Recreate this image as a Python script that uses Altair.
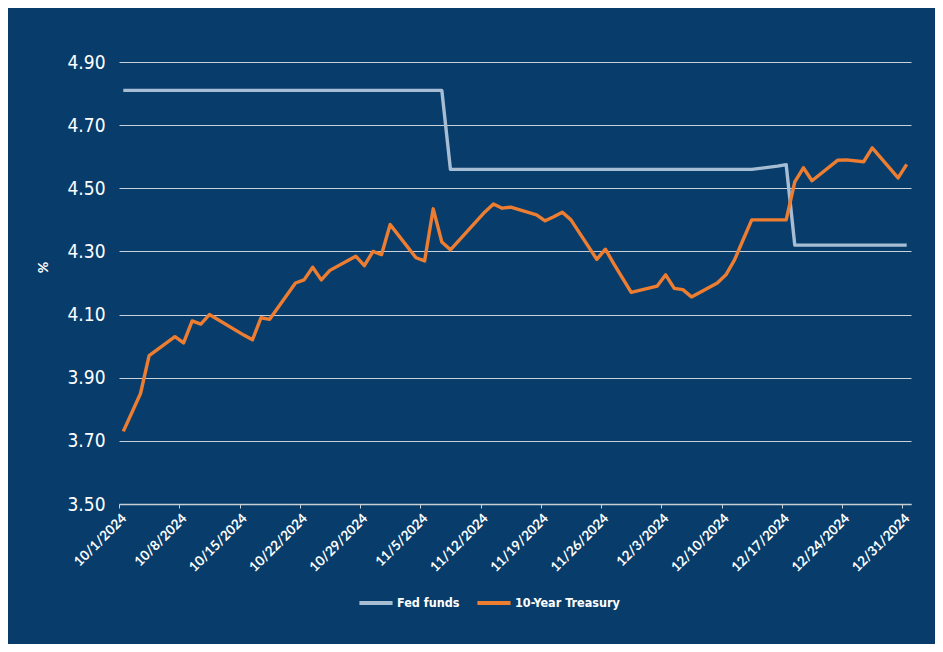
import altair as alt
import pandas as pd

# ---- data ----
dates = [
    "2024-10-01", "2024-10-02", "2024-10-03", "2024-10-04", "2024-10-07", "2024-10-08",
    "2024-10-09", "2024-10-10", "2024-10-11", "2024-10-15", "2024-10-16", "2024-10-17",
    "2024-10-18", "2024-10-21", "2024-10-22", "2024-10-23", "2024-10-24", "2024-10-25",
    "2024-10-28", "2024-10-29", "2024-10-30", "2024-10-31",
    "2024-11-01", "2024-11-04", "2024-11-05", "2024-11-06", "2024-11-07", "2024-11-08",
    "2024-11-12", "2024-11-13", "2024-11-14", "2024-11-15", "2024-11-18", "2024-11-19",
    "2024-11-20", "2024-11-21", "2024-11-22", "2024-11-25", "2024-11-26", "2024-11-27",
    "2024-11-29",
    "2024-12-02", "2024-12-03", "2024-12-04", "2024-12-05", "2024-12-06", "2024-12-09",
    "2024-12-10", "2024-12-11", "2024-12-12", "2024-12-13", "2024-12-16", "2024-12-17",
    "2024-12-18", "2024-12-19", "2024-12-20", "2024-12-23", "2024-12-24", "2024-12-26",
    "2024-12-27", "2024-12-30", "2024-12-31",
]

treasury_10y = [
    3.73, 3.79, 3.85, 3.97, 4.03, 4.01,
    4.08, 4.07, 4.10, 4.035, 4.02, 4.09,
    4.085, 4.20, 4.21, 4.25, 4.21, 4.24,
    4.285, 4.255, 4.30, 4.29,
    4.385, 4.28, 4.27, 4.435, 4.33, 4.305,
    4.425, 4.45, 4.437, 4.44, 4.416, 4.397,
    4.41, 4.424, 4.40, 4.275, 4.307, 4.26,
    4.17,
    4.19, 4.226, 4.183, 4.179, 4.156, 4.20,
    4.226, 4.273, 4.337, 4.40, 4.40, 4.40,
    4.52, 4.565, 4.524, 4.589, 4.59, 4.584,
    4.628, 4.533, 4.576,
]

fed_funds = [
    4.81, 4.81, 4.81, 4.81, 4.81, 4.81,
    4.81, 4.81, 4.81, 4.81, 4.81, 4.81,
    4.81, 4.81, 4.81, 4.81, 4.81, 4.81,
    4.81, 4.81, 4.81, 4.81,
    4.81, 4.81, 4.81, 4.81, 4.81, 4.56,
    4.56, 4.56, 4.56, 4.56, 4.56, 4.56,
    4.56, 4.56, 4.56, 4.56, 4.56, 4.56,
    4.56,
    4.56, 4.56, 4.56, 4.56, 4.56, 4.56,
    4.56, 4.56, 4.56, 4.56, 4.57, 4.575,
    4.32, 4.32, 4.32, 4.32, 4.32, 4.32,
    4.32, 4.32, 4.32,
]

series_names = ["Fed funds", "10-Year Treasury"]
series_colors = ["#a6bdd3", "#ed7d31"]
y_ticks = [3.50, 3.70, 3.90, 4.10, 4.30, 4.50, 4.70, 4.90]
x_tick_days = [(10, 1), (10, 8), (10, 15), (10, 22), (10, 29), (11, 5), (11, 12),
               (11, 19), (11, 26), (12, 3), (12, 10), (12, 17), (12, 24), (12, 31)]

rows = []
for d, f, t in zip(dates, fed_funds, treasury_10y):
    rows.append({"date": d + "T12:00:00", "series": series_names[0], "value": f})
    rows.append({"date": d + "T12:00:00", "series": series_names[1], "value": t})
df = pd.DataFrame(rows)

BG = "#083d6b"
COND = "Liberation Sans Narrow, DejaVu Sans Condensed, Roboto Condensed, sans-serif"

x_vals = [alt.DateTime(year=2024, month=m, date=dd) for m, dd in x_tick_days]

chart = alt.Chart(df).mark_line(strokeWidth=3.4, strokeJoin="round").encode(
    x=alt.X(
        "date:T",
        scale=alt.Scale(domain=[alt.DateTime(year=2024, month=10, date=1),
                                alt.DateTime(year=2025, month=1, date=1)]),
        axis=alt.Axis(
            values=x_vals, format="%-m/%-d/%Y", labelAngle=-45, title=None,
            grid=False, domainColor="#c8ced6", domainWidth=1.5, tickColor="#c8ced6",
            tickSize=4, labelColor="#ffffff", labelFont="Lato", labelFontWeight="bold",
            labelFontSize=13.5, labelPadding=3, labelAlign="right", labelBaseline="top",
            labelOverlap=False, labelFlush=False,
        ),
    ),
    y=alt.Y(
        "value:Q",
        scale=alt.Scale(domain=[3.5, 4.9], nice=False, zero=False),
        axis=alt.Axis(
            values=y_ticks, format=".2f", title="%", titleAngle=-90,
            titleColor="#ffffff", titleFont="Lato", titleFontSize=14, titleFontWeight="bold",
            titleX=-76, titleY=205, titleAlign="center", titleBaseline="middle",
            grid=True, gridColor="#c9d1db", gridWidth=1,
            domain=False, ticks=False, labelColor="#ffffff", labelFont=COND,
            labelFontSize=19, labelPadding=14,
        ),
    ),
    color=alt.Color(
        "series:N",
        scale=alt.Scale(domain=series_names, range=series_colors),
        legend=alt.Legend(
            title=None, orient="none", direction="horizontal", legendX=238, legendY=522,
            symbolType="stroke", symbolSize=1100, symbolStrokeWidth=4,
            labelColor="#ffffff", labelFont=COND, labelFontSize=12.5, labelFontWeight="bold",
            labelOffset=2, columnPadding=9, padding=0,
        ),
    ),
).properties(
    width=792, height=442,
    autosize=alt.AutoSizeParams(type="none"),
    padding={"left": 111, "top": 54, "right": 24, "bottom": 140},
    background=BG,
).configure_view(stroke=None, fill=BG)

chart.save("out.html", embed_options={"renderer": "svg", "actions": False})
